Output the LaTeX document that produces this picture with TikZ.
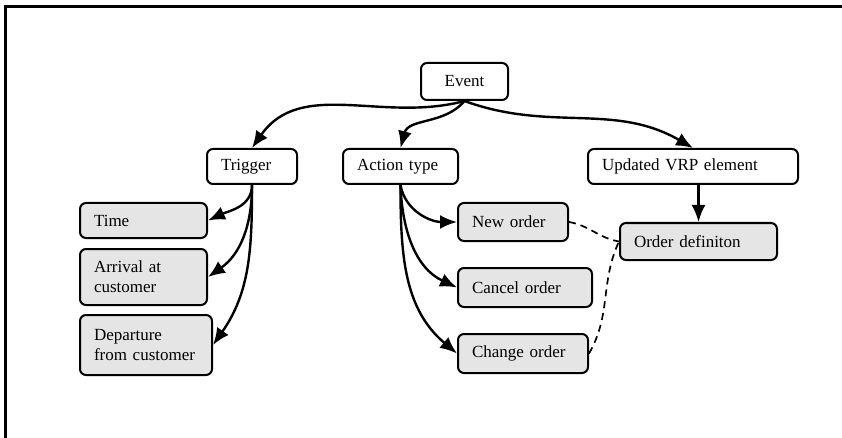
\documentclass[tikz,border=0pt]{standalone}
\usepackage{fontspec}
\setmainfont{Liberation Serif}
\usetikzlibrary{arrows.meta}
\begin{document}
\begin{tikzpicture}[x=1pt,y=-1pt,
  box/.style={draw, line width=2pt, rounded corners=6pt, inner xsep=14pt, inner ysep=2pt,
    font=\fontsize{17}{20}\selectfont, align=left, fill=white},
  leaf/.style={box, fill=gray!20},
  link/.style={line width=2.4pt, -{Latex[length=17pt,width=14pt]}},
  dashlink/.style={line width=1.7pt, dash pattern=on 7pt off 5pt}]
\useasboundingbox (0,0) rectangle (842,438);
% frame
\draw[line width=3pt] (5,438) -- (5,7) -- (842,7);

% top level
\node[box, align=center, minimum width=87pt, minimum height=37pt] (ev) at (464.5,81.5) {Event};
\node[box, text width=62pt, minimum height=35pt] (tr) at (252,166.5) {Trigger};
\node[box, text width=87pt, minimum height=35pt] (at) at (400.5,166.5) {Action type};
\node[box, text width=182pt, minimum height=35pt] (up) at (693,166.5) {Updated VRP element};

% trigger kinds
\node[leaf, text width=99pt, minimum height=35pt] (ti) at (143.5,220.5) {Time};
\node[leaf, text width=99pt, minimum height=56pt] (ar) at (143.5,277) {Arrival at\\customer};
\node[leaf, text width=104pt, minimum height=60pt] (de) at (146,345) {Departure\\from customer};

% action kinds
\node[leaf, text width=82pt, minimum height=38pt] (no) at (513,222) {New order};
\node[leaf, text width=106pt, minimum height=39pt] (co) at (525,287.5) {Cancel order};
\node[leaf, text width=102pt, minimum height=39pt] (ch) at (523,353.5) {Change order};

% updated element
\node[leaf, text width=129pt, minimum height=37pt] (od) at (698.5,241.5) {Order definiton};

% connectors
\draw[link] (ev.south) to[out=-165, in=55] (tr.north);
\draw[link] (ev.south) to[out=-130, in=75] (at.north);
\draw[link] (ev.south) to[out=-20, in=150] (up.north);

\draw[link] (tr.south) to[out=-90, in=25] (ti.east);
\draw[link] (tr.south) to[out=-90, in=35] (ar.east);
\draw[link] (tr.south) to[out=-90, in=55] (de.east);

\draw[link] (at.south) to[out=-80, in=180] (no.west);
\draw[link] (at.south) to[out=-88, in=155] (co.west);
\draw[link] (at.south) to[out=-90, in=140] (ch.west);

\draw[link] (up.south -| od.north) -- (od.north);

\draw[dashlink] (no.east) to[out=-10, in=170] (od.west);
\draw[dashlink] (ch.east) to[out=60, in=245] (od.west);
\end{tikzpicture}
\end{document}
